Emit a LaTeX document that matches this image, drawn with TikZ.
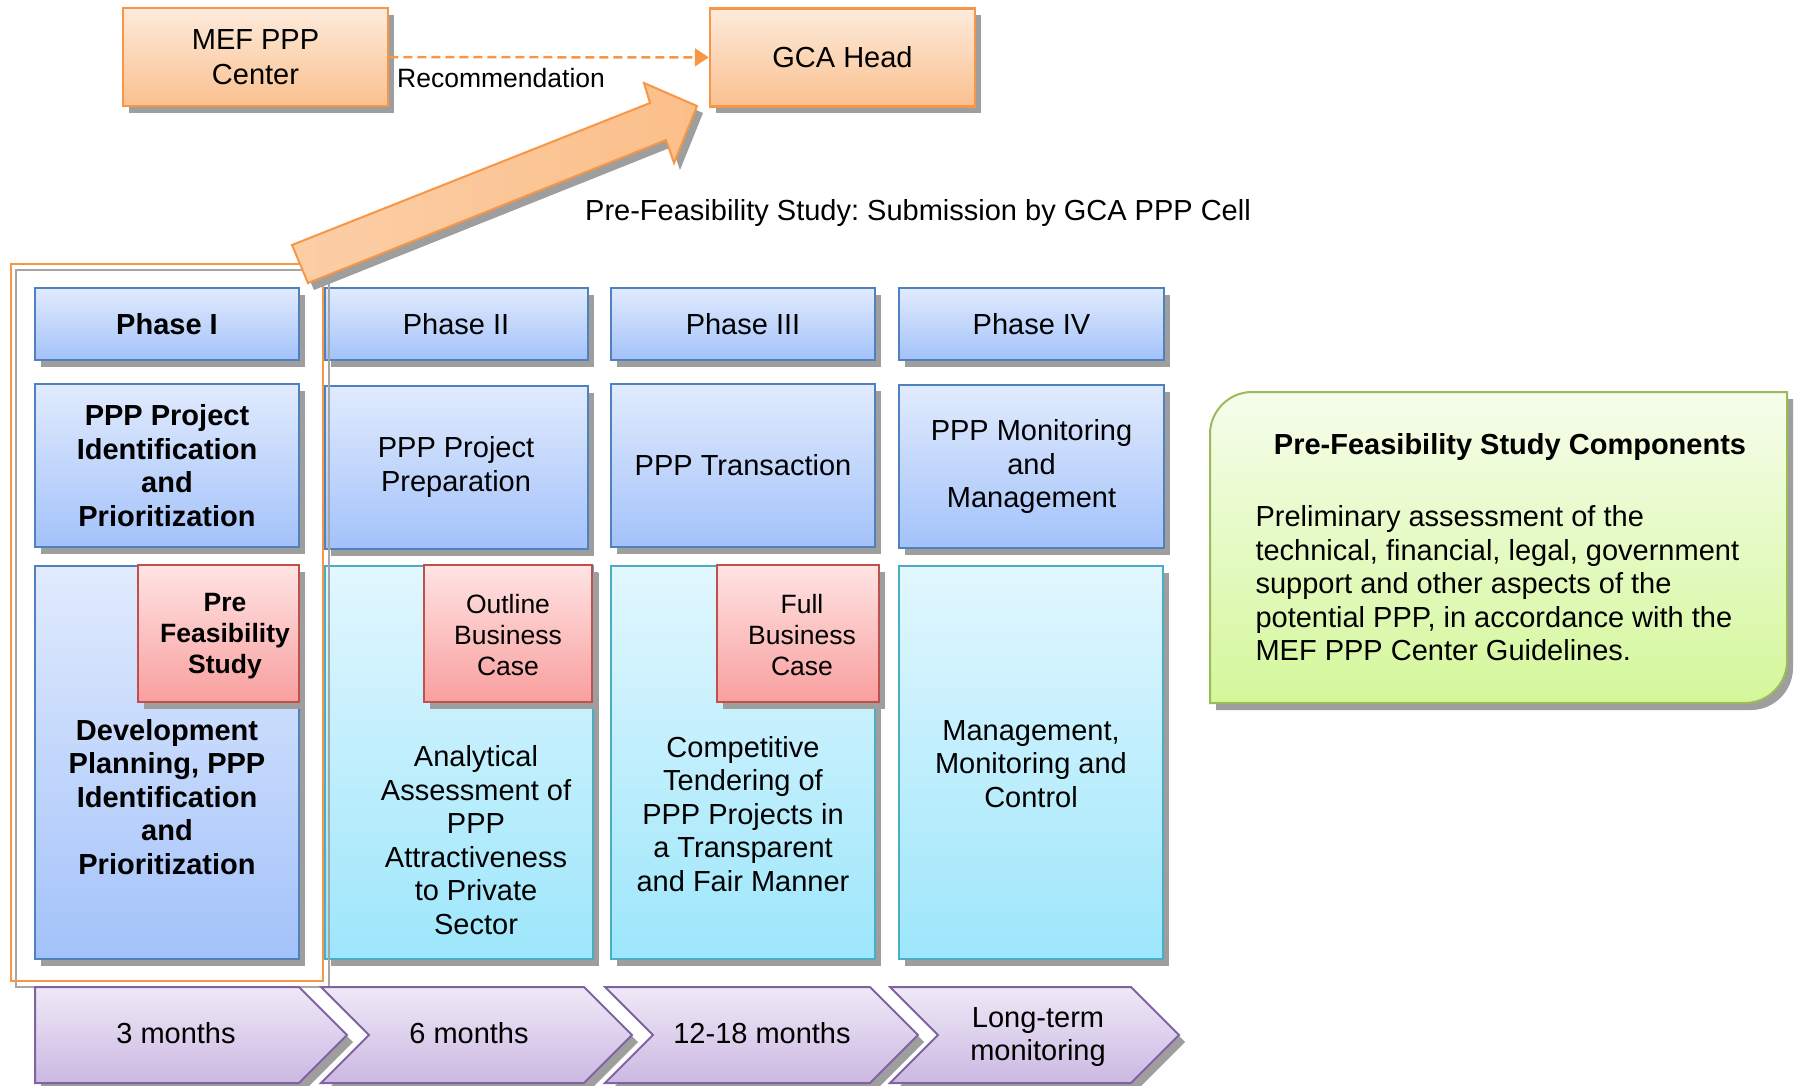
\documentclass[tikz,border=0pt]{standalone}
\usepackage{fontspec}
\setmainfont{Liberation Sans}
\frenchspacing
\usetikzlibrary{arrows.meta,shadows}
\definecolor{orangeline}{HTML}{F79646}
\definecolor{orangetop}{HTML}{FDEBDC}
\definecolor{orangebot}{HTML}{FAC08F}
\definecolor{arrowfill}{HTML}{FBBF8A}
\definecolor{blueline}{HTML}{4F81BD}
\definecolor{bluetop}{HTML}{E1EBFD}
\definecolor{bluebot}{HTML}{A3C2FA}
\definecolor{cyanline}{HTML}{4BACC6}
\definecolor{cyantop}{HTML}{E2F7FE}
\definecolor{cyanbot}{HTML}{9DE6FB}
\definecolor{redline}{HTML}{C0504D}
\definecolor{redtop}{HTML}{FFE4E4}
\definecolor{redbot}{HTML}{F89F9E}
\definecolor{purpleline}{HTML}{8064A2}
\definecolor{purpletop}{HTML}{EFE9F7}
\definecolor{purplebot}{HTML}{CBB8E2}
\definecolor{greenline}{HTML}{9BBB59}
\definecolor{greentop}{HTML}{F6FDEC}
\definecolor{greenbot}{HTML}{D4F79A}

\begin{document}
\begin{tikzpicture}[x=1pt,y=-1pt,
			boxshadow/.style={drop shadow={shadow xshift=6pt,shadow yshift=-7pt,fill=black!38,opacity=1}},
			txt/.style={align=center,font=\fontsize{29}{33.5}\selectfont},
			boldtxt/.style={align=center,font=\fontsize{29}{33.5}\selectfont\bfseries},
			smalltxt/.style={align=center,font=\fontsize{26.5}{31}\selectfont},
			orangebox/.style={boxshadow,draw=orangeline,line width=2.5pt,top color=orangetop,bottom color=orangebot,inner sep=0pt,minimum width=265pt,minimum height=98pt,txt},
			header/.style={boxshadow,draw=blueline,line width=2pt,top color=bluetop,bottom color=bluebot,inner sep=0pt,minimum height=72pt,txt},
			bluebox/.style={boxshadow,draw=blueline,line width=2pt,top color=bluetop,bottom color=bluebot,inner sep=0pt,txt},
			cyanbox/.style={boxshadow,draw=cyanline,line width=2pt,top color=cyantop,bottom color=cyanbot,inner sep=0pt,txt},
			redbox/.style={boxshadow,draw=redline,line width=2pt,top color=redtop,bottom color=redbot,inner sep=0pt,minimum height=137pt,smalltxt},
			chevron/.style={boxshadow,draw=purpleline,line width=2pt,top color=purpletop,bottom color=purplebot},
			greenbox/.style={boxshadow,draw=greenline,line width=2pt,top color=greentop,bottom color=greenbot},
			dasharrow/.style={draw=orangeline,line width=2.5pt,dash pattern=on 9pt off 5pt,-{Triangle[length=14pt,width=18pt]}}]
			\useasboundingbox (0,0) rectangle (1798,1086);

			\node[orangebox] (mef) at (255.5,57) {MEF PPP\\[2pt]Center};
			\node[orangebox] (gca) at (842.5,57.5) {GCA Head};
			\draw[dasharrow] (mef) -- (gca) node[pos=.35,below=7pt,smalltxt,text=black] (rec) {Recommendation};

			\node[txt] (submit) at (918,213) {Pre-Feasibility Study: Submission by GCA PPP Cell};

			\node[header,minimum width=264pt,boldtxt] (ph1) at (167,324) {Phase I};
			\node[header,minimum width=263pt] (ph2) at (456,324) {Phase II};
			\node[header,minimum width=264pt] (ph3) at (743,324) {Phase III};
			\node[header,minimum width=265pt] (ph4) at (1031.5,324) {Phase IV};

			\node[bluebox,minimum width=264pt,minimum height=163pt,boldtxt] (act1) at (167,465.5) {PPP Project\\Identification\\and\\Prioritization};
			\node[bluebox,minimum width=263pt,minimum height=163pt] (act2) at (456,467) {PPP Project\\Preparation};
			\node[bluebox,minimum width=264pt,minimum height=163pt] (act3) at (743,465.5) {PPP Transaction};
			\node[bluebox,minimum width=265pt,minimum height=163pt] (act4) at (1031.5,466.5) {PPP Monitoring\\and\\Management};

			\node[bluebox,minimum width=264pt,minimum height=393pt] (task1) at (167,762.5) {};
			\node[cyanbox,minimum width=268pt,minimum height=393pt] (task2) at (458.5,762.5) {};
			\node[cyanbox,minimum width=264pt,minimum height=393pt] (task3) at (743,762.5) {};
			\node[cyanbox,minimum width=264pt,minimum height=393pt] (task4) at (1031,762.5) {};

			\node[redbox,minimum width=161pt] (doc1) at (218,633.5) {};
			\node[redbox,minimum width=168pt] (doc2) at (508,633.5) {};
			\node[redbox,minimum width=162pt] (doc3) at (798,633.5) {};
			\node[smalltxt,font=\fontsize{26.5}{31}\selectfont\bfseries] (doc1txt) at (225,636) {Pre\\Feasibility\\Study};
			\node[smalltxt] (doc2txt) at (508,635) {Outline\\Business\\Case};
			\node[smalltxt] (doc3txt) at (802,635) {Full\\Business\\Case};

			\node[boldtxt] (desc1) at (167,797) {Development\\Planning, PPP\\Identification\\and\\Prioritization};
			\node[txt] (desc2) at (476,840) {Analytical\\Assessment of\\PPP\\Attractiveness\\to Private\\Sector};
			\node[txt] (desc3) at (743,814) {Competitive\\Tendering of\\PPP Projects in\\a Transparent\\and Fair Manner};
			\node[txt] (desc4) at (1031,764) {Management,\\Monitoring and\\Control};

			\draw[black!35,line width=1.5pt] (16,270) rectangle (329,987);
			\draw[orangeline,line width=1.5pt] (11,264) rectangle (323,981);

			\path[chevron] (35,987) -- (299,987) -- (347,1035) -- (299,1083) -- (35,1083) -- cycle;
			\path[chevron] (321,987) -- (584,987) -- (632,1035) -- (584,1083) -- (321,1083) -- (369,1035) -- cycle;
			\path[chevron] (605,987) -- (870,987) -- (918,1035) -- (870,1083) -- (605,1083) -- (653,1035) -- cycle;
			\path[chevron] (890,987) -- (1131,987) -- (1179,1035) -- (1131,1083) -- (890,1083) -- (938,1035) -- cycle;
			\node[txt] (dur1) at (176,1033) {3 months};
			\node[txt] (dur2) at (469,1033) {6 months};
			\node[txt] (dur3) at (762,1033) {12-18 months};
			\node[txt] (dur4) at (1038,1037) {Long-term\\monitoring};

			\path[boxshadow,draw=orangeline,line width=2pt,left color=orangetop!35!arrowfill,right color=arrowfill] (292,245) -- (650,103) -- (644,83) -- (697,106) -- (674,163) -- (666,140) -- (308,283) -- cycle;

			\path[greenbox] (1210,703) -- (1210,434) .. controls (1210,411) and (1229,392) .. (1252,392) -- (1787,392) -- (1787,661) .. controls (1787,684) and (1768,703) .. (1745,703) -- cycle;
			\node[boldtxt] (comptitle) at (1510,447) {Pre-Feasibility Study Components};
			\node[txt,align=left,anchor=west] (comptext) at (1252,583.5) {Preliminary assessment of the\\technical, financial, legal, government\\support and other aspects of the\\potential PPP, in accordance with the\\MEF PPP Center Guidelines.};
			\end{tikzpicture}
\end{document}
